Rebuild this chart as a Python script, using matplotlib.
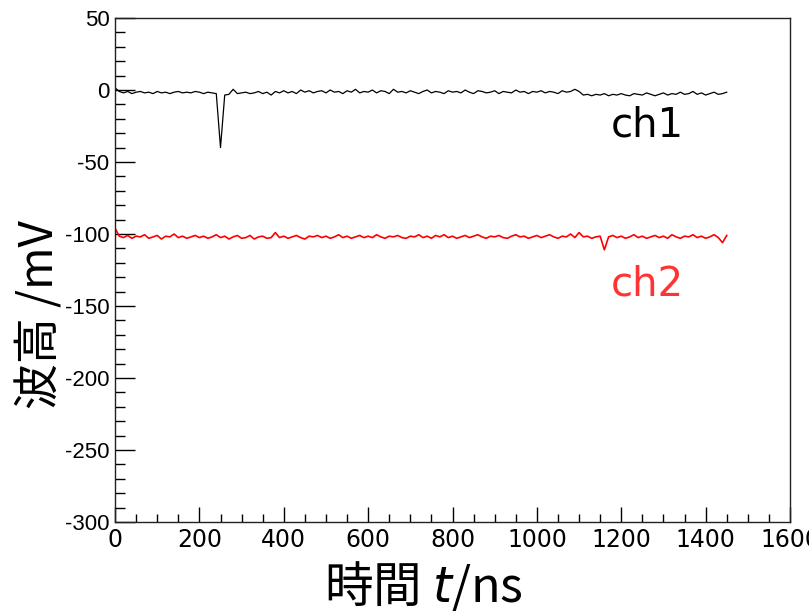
import numpy as np
import matplotlib
matplotlib.use('Agg')
import matplotlib.pyplot as plt
from matplotlib.ticker import MultipleLocator

plt.rcParams['axes.unicode_minus'] = False

# waveform samples, 10 ns step starting at t=0
dt = 10.0
ch1_mV = [1.5, -1.0, -2.0, -1.0, -2.5, -1.5, -1.0, -2.0, -1.5, -2.5,
          -1.0, -2.0, -1.5, -2.5, -1.5, -1.0, -2.0, -1.5, -2.0, -1.0,
          -1.5, -2.5, -1.5, -2.0, -2.5, -40.0, -3.5, -3.0, 0.5, -2.5,
          -2.0, -1.5, -2.5, -2.0, -1.0, -2.5, -1.5, -3.5, -1.0, -2.0,
          -0.5, -2.0, -1.0, -2.5, 0.0, -1.5, -0.5, -2.0, -1.0, -0.5,
          -2.0, 0.0, -1.5, -1.0, -2.5, -0.5, -1.5, 0.5, -2.0, -1.0,
          -1.5, 0.0, -2.0, -0.5, -1.0, -2.5, 0.5, -1.5, -1.0, -2.0,
          -0.5, -1.5, -2.5, -1.0, 0.0, -2.0, -1.0, -1.5, -2.5, -0.5,
          -1.5, -1.0, -2.0, 0.0, -1.5, -2.5, -0.5, -1.0, -2.0, -1.5,
          -0.5, -2.5, -1.0, -1.5, -2.0, 0.0, -1.5, -1.0, -2.5, -1.0,
          -1.5, -0.5, -2.0, -1.0, -1.5, -2.5, -0.5, -1.5, -1.0, 0.5,
          -1.0, -3.5, -3.0, -4.0, -3.0, -3.5, -2.5, -4.0, -3.0, -3.5,
          -2.5, -3.5, -4.0, -2.5, -3.0, -3.5, -2.0, -3.0, -4.0, -3.0,
          -2.0, -3.5, -2.5, -3.0, -1.5, -3.0, -2.5, -1.0, -3.0, -2.0,
          -3.5, -2.5, -1.5, -3.0, -2.5, -1.5]
ch2_mV = [-96.0, -101.5, -102.5, -101.0, -103.0, -101.5, -102.0, -100.5, -103.0, -102.0,
          -101.0, -103.5, -101.5, -102.0, -100.0, -102.5, -101.5, -103.0, -102.0, -101.0,
          -102.5, -101.5, -103.0, -102.0, -100.5, -102.5, -101.5, -103.5, -102.0, -101.0,
          -103.0, -102.5, -101.0, -103.5, -102.0, -101.5, -103.0, -102.5, -99.0, -102.5,
          -101.5, -103.0, -102.0, -101.0, -102.5, -103.5, -101.5, -102.0, -101.0, -102.5,
          -101.5, -103.0, -102.0, -100.5, -102.5, -101.5, -103.0, -102.0, -101.0, -102.5,
          -101.5, -102.5, -100.5, -102.0, -103.0, -101.5, -102.0, -101.0, -102.5, -103.0,
          -101.5, -102.0, -100.5, -102.5, -101.5, -103.0, -101.0, -102.0, -100.5, -102.5,
          -101.5, -103.0, -102.0, -101.0, -102.5, -101.5, -100.5, -102.0, -103.0, -101.5,
          -102.0, -101.0, -102.5, -103.0, -101.5, -100.5, -102.0, -101.5, -103.0, -102.0,
          -101.0, -102.5, -101.5, -100.5, -102.0, -103.0, -101.5, -102.0, -100.0, -102.5,
          -99.0, -102.0, -101.5, -103.0, -102.0, -101.5, -111.0, -102.0, -101.0, -102.5,
          -101.5, -103.0, -102.0, -100.5, -102.5, -101.5, -103.0, -102.0, -101.0, -102.5,
          -101.5, -103.0, -100.5, -102.0, -103.0, -101.5, -102.0, -100.5, -102.5, -101.5,
          -103.0, -102.0, -100.5, -102.5, -106.0, -101.0]
t_ns = np.arange(len(ch1_mV)) * dt

jp = ['Noto Sans CJK JP', 'DejaVu Sans']

fig = plt.figure(figsize=(8.09, 6.13), dpi=100)
ax = fig.add_axes([0.1422, 0.1485, 0.9765 - 0.1422, 0.9706 - 0.1485])

ax.plot(t_ns, ch1_mV, color='black', lw=0.9)
ax.plot(t_ns, ch2_mV, color='red', lw=1.2)

ax.set_xlim(0, 1600)
ax.set_ylim(-300, 50)
ax.xaxis.set_major_locator(MultipleLocator(200))
ax.xaxis.set_minor_locator(MultipleLocator(50))
ax.yaxis.set_major_locator(MultipleLocator(50))
ax.yaxis.set_minor_locator(MultipleLocator(10))
ax.tick_params(axis='both', which='both', direction='in', top=False, right=False, width=1)
ax.tick_params(axis='x', which='major', length=11, pad=4, labelsize=17,
               labelfontfamily='Liberation Sans Narrow')
ax.tick_params(axis='x', which='minor', length=5.5)
ax.tick_params(axis='y', which='major', length=14.5, pad=4, labelsize=16,
               labelfontfamily='Liberation Sans')
ax.tick_params(axis='y', which='minor', length=7)
for sp in ax.spines.values():
    sp.set_linewidth(1.0)
    sp.set_color('#222222')

# channel names next to the traces
ax.text(1175, -32.6, 'ch1', fontsize=29, family='DejaVu Sans', color='black',
        va='baseline')
ax.text(1175, -142.4, 'ch2', fontsize=29, family='DejaVu Sans', color='#ff3333',
        va='baseline')

# axis titles
fig.text(423 / 809, 1 - 586 / 613, '時間 $t$/ns', fontsize=35, family=jp,
         ha='center', va='center')
fig.text(40 / 809, 1 - 315 / 613, '波高 /mV', fontsize=33, family=jp,
         ha='center', va='center', rotation=90)

fig.savefig('out.png', dpi=100)
